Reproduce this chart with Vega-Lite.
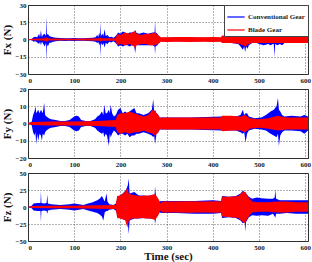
{
"$schema": "https://vega.github.io/schema/vega-lite/v6.json",
"padding": {"left": 0, "top": 0, "right": 2, "bottom": 0},
"spacing": 0,
"datasets": {
"fxC": [{"t":0,"lo":0,"hi":0},{"t":8,"lo":-0.5,"hi":0.5},{"t":12,"lo":-2,"hi":2},{"t":16,"lo":-1.5,"hi":2.5},{"t":20,"lo":-2.5,"hi":2},{"t":24,"lo":-4,"hi":5},{"t":26,"lo":-2,"hi":2},{"t":28,"lo":-5,"hi":8},{"t":30,"lo":-2,"hi":2},{"t":32,"lo":-3,"hi":4},{"t":36,"lo":-6,"hi":5},{"t":39,"lo":-3,"hi":3},{"t":40,"lo":-19,"hi":20},{"t":41,"lo":-4,"hi":4},{"t":43,"lo":-6,"hi":5},{"t":46,"lo":-3,"hi":3},{"t":50,"lo":-2.5,"hi":2.5},{"t":55,"lo":-2,"hi":2},{"t":60,"lo":-1.5,"hi":1.5},{"t":70,"lo":-1,"hi":1.2},{"t":80,"lo":-1.2,"hi":1},{"t":90,"lo":-1,"hi":1},{"t":100,"lo":-1.2,"hi":1.2},{"t":110,"lo":-1,"hi":1},{"t":120,"lo":-1,"hi":1},{"t":130,"lo":-1.2,"hi":1.2},{"t":140,"lo":-1.5,"hi":1.5},{"t":146,"lo":-2,"hi":2},{"t":150,"lo":-3,"hi":4},{"t":152,"lo":-2,"hi":2},{"t":154,"lo":-5,"hi":6},{"t":156,"lo":-3,"hi":3},{"t":157,"lo":-15,"hi":15},{"t":158,"lo":-3,"hi":3},{"t":161,"lo":-5,"hi":5},{"t":163,"lo":-3,"hi":3},{"t":166,"lo":-7,"hi":9},{"t":168,"lo":-3,"hi":3},{"t":172,"lo":-4,"hi":4},{"t":176,"lo":-2,"hi":2},{"t":180,"lo":-2.5,"hi":2.5},{"t":185,"lo":-1.5,"hi":1.5},{"t":190,"lo":-3,"hi":3},{"t":195,"lo":-6,"hi":6},{"t":200,"lo":-5,"hi":5},{"t":205,"lo":-6,"hi":7},{"t":210,"lo":-5,"hi":6},{"t":215,"lo":-5,"hi":5},{"t":220,"lo":-6,"hi":6},{"t":225,"lo":-5,"hi":6},{"t":230,"lo":-6,"hi":7},{"t":232,"lo":-12,"hi":8},{"t":234,"lo":-5,"hi":6},{"t":240,"lo":-5,"hi":5},{"t":250,"lo":-5,"hi":6},{"t":260,"lo":-5,"hi":5},{"t":270,"lo":-5,"hi":6},{"t":274,"lo":-6,"hi":6},{"t":275,"lo":-13,"hi":16},{"t":276,"lo":-6,"hi":6},{"t":280,"lo":-5,"hi":5},{"t":283,"lo":-3,"hi":3},{"t":286,"lo":-1.5,"hi":1.5},{"t":350,"lo":-1.5,"hi":1.5},{"t":418,"lo":-1.5,"hi":1.5},{"t":420,"lo":-3,"hi":3},{"t":440,"lo":-3,"hi":3},{"t":455,"lo":-4,"hi":4},{"t":460,"lo":-6,"hi":6},{"t":465,"lo":-9,"hi":8},{"t":468,"lo":-6,"hi":6},{"t":470,"lo":-11,"hi":10},{"t":472,"lo":-6,"hi":7},{"t":475,"lo":-8,"hi":6},{"t":478,"lo":-5,"hi":5},{"t":485,"lo":-3,"hi":3},{"t":495,"lo":-3,"hi":3},{"t":500,"lo":-4,"hi":5},{"t":510,"lo":-5,"hi":5},{"t":520,"lo":-4,"hi":5},{"t":525,"lo":-5,"hi":4},{"t":530,"lo":-4,"hi":8},{"t":532,"lo":-4,"hi":4},{"t":533,"lo":-15,"hi":12},{"t":535,"lo":-4,"hi":5},{"t":540,"lo":-5,"hi":6},{"t":545,"lo":-4,"hi":5},{"t":550,"lo":-5,"hi":4},{"t":555,"lo":-3,"hi":3},{"t":570,"lo":-3,"hi":3},{"t":590,"lo":-3,"hi":3},{"t":606,"lo":-3,"hi":3}],
"fxB": [{"t":0,"lo":-0.3,"hi":0.3},{"t":10,"lo":-0.7,"hi":0.7},{"t":38,"lo":-1,"hi":1},{"t":40,"lo":-2,"hi":2},{"t":45,"lo":-0.8,"hi":0.8},{"t":100,"lo":-0.7,"hi":0.7},{"t":155,"lo":-1,"hi":1},{"t":157,"lo":-2,"hi":2},{"t":160,"lo":-1,"hi":1},{"t":190,"lo":-1,"hi":1},{"t":193,"lo":-5,"hi":5},{"t":200,"lo":-4,"hi":4},{"t":210,"lo":-5,"hi":6},{"t":220,"lo":-4,"hi":5},{"t":230,"lo":-6,"hi":7},{"t":232,"lo":-8,"hi":8},{"t":235,"lo":-5,"hi":5},{"t":245,"lo":-4,"hi":4},{"t":255,"lo":-4,"hi":5},{"t":265,"lo":-5,"hi":5},{"t":275,"lo":-5,"hi":6},{"t":280,"lo":-4,"hi":4},{"t":285,"lo":-3,"hi":3},{"t":287,"lo":-2,"hi":2},{"t":300,"lo":-2.2,"hi":2},{"t":320,"lo":-2,"hi":2.2},{"t":350,"lo":-2.2,"hi":2.2},{"t":380,"lo":-2,"hi":2},{"t":400,"lo":-2.2,"hi":2.2},{"t":418,"lo":-2,"hi":2},{"t":420,"lo":-3,"hi":3.5},{"t":440,"lo":-3,"hi":3},{"t":455,"lo":-3.5,"hi":3.5},{"t":465,"lo":-5,"hi":5},{"t":470,"lo":-6,"hi":5},{"t":478,"lo":-4,"hi":4},{"t":485,"lo":-3,"hi":3},{"t":500,"lo":-3,"hi":3},{"t":520,"lo":-3,"hi":3},{"t":540,"lo":-3,"hi":3},{"t":560,"lo":-3,"hi":3},{"t":580,"lo":-3,"hi":3},{"t":606,"lo":-3,"hi":3}],
"fyC": [{"t":0,"lo":0,"hi":0},{"t":8,"lo":-1,"hi":1},{"t":11,"lo":-5,"hi":5},{"t":14,"lo":-7,"hi":7},{"t":16,"lo":-5,"hi":10},{"t":18,"lo":-12,"hi":6},{"t":20,"lo":-6,"hi":7},{"t":22,"lo":-10,"hi":8},{"t":25,"lo":-6,"hi":6},{"t":28,"lo":-7,"hi":8},{"t":30,"lo":-10,"hi":7},{"t":32,"lo":-6,"hi":6},{"t":35,"lo":-7,"hi":12},{"t":37,"lo":-5,"hi":5},{"t":40,"lo":-4,"hi":4},{"t":45,"lo":-3,"hi":3},{"t":50,"lo":-2.5,"hi":2.5},{"t":60,"lo":-2,"hi":2},{"t":70,"lo":-1.5,"hi":1.5},{"t":80,"lo":-1.5,"hi":1.5},{"t":90,"lo":-2,"hi":2},{"t":95,"lo":-3,"hi":3},{"t":100,"lo":-4,"hi":4},{"t":105,"lo":-4.5,"hi":4.5},{"t":110,"lo":-4,"hi":4},{"t":115,"lo":-2,"hi":2},{"t":125,"lo":-1.5,"hi":1.5},{"t":135,"lo":-1.5,"hi":1.5},{"t":145,"lo":-2.5,"hi":2.5},{"t":150,"lo":-4,"hi":4},{"t":155,"lo":-5,"hi":5},{"t":160,"lo":-6,"hi":7},{"t":163,"lo":-5,"hi":5},{"t":165,"lo":-8,"hi":11},{"t":168,"lo":-6,"hi":6},{"t":171,"lo":-7,"hi":6},{"t":175,"lo":-13,"hi":8},{"t":177,"lo":-6,"hi":6},{"t":179,"lo":-8,"hi":11},{"t":182,"lo":-6,"hi":6},{"t":186,"lo":-4,"hi":4},{"t":190,"lo":-5,"hi":5},{"t":195,"lo":-7,"hi":8},{"t":200,"lo":-6,"hi":9},{"t":205,"lo":-6,"hi":6},{"t":210,"lo":-7,"hi":7},{"t":215,"lo":-6,"hi":6},{"t":220,"lo":-8,"hi":7},{"t":225,"lo":-7,"hi":8},{"t":230,"lo":-7,"hi":9},{"t":235,"lo":-6,"hi":6},{"t":240,"lo":-6,"hi":6},{"t":250,"lo":-5,"hi":5},{"t":260,"lo":-6,"hi":6},{"t":268,"lo":-7,"hi":8},{"t":271,"lo":-8,"hi":14},{"t":273,"lo":-7,"hi":7},{"t":275,"lo":-12,"hi":8},{"t":278,"lo":-6,"hi":6},{"t":282,"lo":-5,"hi":5},{"t":285,"lo":-3.5,"hi":3.5},{"t":350,"lo":-3.5,"hi":3.5},{"t":420,"lo":-4,"hi":4},{"t":450,"lo":-4,"hi":4},{"t":460,"lo":-5,"hi":5},{"t":465,"lo":-6,"hi":8},{"t":468,"lo":-5,"hi":5},{"t":471,"lo":-11,"hi":6},{"t":474,"lo":-6,"hi":6},{"t":478,"lo":-4,"hi":4},{"t":490,"lo":-3,"hi":3},{"t":505,"lo":-3.5,"hi":3.5},{"t":515,"lo":-4,"hi":5},{"t":525,"lo":-6,"hi":7},{"t":532,"lo":-7,"hi":8},{"t":538,"lo":-8,"hi":10},{"t":541,"lo":-6,"hi":15},{"t":543,"lo":-13,"hi":8},{"t":546,"lo":-7,"hi":7},{"t":550,"lo":-5,"hi":5},{"t":555,"lo":-4,"hi":4},{"t":570,"lo":-4,"hi":4.5},{"t":590,"lo":-4.5,"hi":4},{"t":598,"lo":-6,"hi":5},{"t":606,"lo":-4,"hi":4}],
"fyB": [{"t":0,"lo":-0.3,"hi":0.3},{"t":10,"lo":-0.8,"hi":0.8},{"t":50,"lo":-1.2,"hi":1.2},{"t":100,"lo":-1.2,"hi":1.2},{"t":150,"lo":-1.5,"hi":1.5},{"t":190,"lo":-2,"hi":2},{"t":193,"lo":-5,"hi":5},{"t":200,"lo":-6,"hi":6},{"t":210,"lo":-5,"hi":6},{"t":220,"lo":-6,"hi":7},{"t":230,"lo":-5,"hi":6},{"t":240,"lo":-5,"hi":5},{"t":250,"lo":-4,"hi":4},{"t":260,"lo":-5,"hi":5},{"t":270,"lo":-6,"hi":8},{"t":275,"lo":-7,"hi":7},{"t":282,"lo":-5,"hi":5},{"t":286,"lo":-3,"hi":3},{"t":288,"lo":-3.5,"hi":3.5},{"t":320,"lo":-3.5,"hi":3.5},{"t":360,"lo":-3.5,"hi":3.5},{"t":400,"lo":-3.5,"hi":3.5},{"t":418,"lo":-3.5,"hi":3.5},{"t":420,"lo":-4.5,"hi":4.5},{"t":440,"lo":-4,"hi":4.5},{"t":460,"lo":-4,"hi":4},{"t":470,"lo":-5,"hi":5},{"t":480,"lo":-3,"hi":3},{"t":500,"lo":-2.5,"hi":2.5},{"t":520,"lo":-3,"hi":3},{"t":540,"lo":-4,"hi":4.5},{"t":560,"lo":-3.5,"hi":3.5},{"t":580,"lo":-3.5,"hi":3.5},{"t":606,"lo":-3.5,"hi":3.5}],
"fzC": [{"t":0,"lo":0,"hi":0},{"t":8,"lo":-2,"hi":2},{"t":12,"lo":-5,"hi":5},{"t":20,"lo":-6,"hi":6},{"t":27,"lo":-6,"hi":6},{"t":28,"lo":-22,"hi":23},{"t":29,"lo":-6,"hi":6},{"t":35,"lo":-5,"hi":5},{"t":40,"lo":-6,"hi":6},{"t":42,"lo":-10,"hi":18},{"t":43,"lo":-5,"hi":5},{"t":50,"lo":-4,"hi":4},{"t":70,"lo":-3,"hi":3},{"t":90,"lo":-4,"hi":4},{"t":100,"lo":-5,"hi":5},{"t":110,"lo":-4,"hi":4},{"t":120,"lo":-3,"hi":3},{"t":130,"lo":-5,"hi":5},{"t":140,"lo":-7,"hi":7},{"t":150,"lo":-9,"hi":10},{"t":155,"lo":-11,"hi":12},{"t":160,"lo":-14,"hi":16},{"t":163,"lo":-20,"hi":12},{"t":166,"lo":-8,"hi":8},{"t":170,"lo":-6,"hi":20},{"t":172,"lo":-6,"hi":8},{"t":176,"lo":-4,"hi":4},{"t":185,"lo":-3,"hi":3},{"t":190,"lo":-5,"hi":5},{"t":195,"lo":-15,"hi":15},{"t":205,"lo":-18,"hi":20},{"t":212,"lo":-20,"hi":25},{"t":216,"lo":-22,"hi":32},{"t":218,"lo":-40,"hi":42},{"t":220,"lo":-20,"hi":20},{"t":230,"lo":-17,"hi":22},{"t":240,"lo":-17,"hi":17},{"t":250,"lo":-16,"hi":17},{"t":260,"lo":-17,"hi":16},{"t":270,"lo":-17,"hi":18},{"t":274,"lo":-18,"hi":18},{"t":275,"lo":-25,"hi":30},{"t":277,"lo":-16,"hi":16},{"t":283,"lo":-8,"hi":8},{"t":290,"lo":-9,"hi":9},{"t":320,"lo":-9,"hi":9},{"t":360,"lo":-10,"hi":9},{"t":400,"lo":-10,"hi":10},{"t":418,"lo":-9,"hi":9},{"t":420,"lo":-16,"hi":16},{"t":435,"lo":-15,"hi":15},{"t":450,"lo":-16,"hi":16},{"t":460,"lo":-20,"hi":20},{"t":465,"lo":-24,"hi":24},{"t":469,"lo":-22,"hi":22},{"t":470,"lo":-36,"hi":22},{"t":472,"lo":-22,"hi":20},{"t":478,"lo":-15,"hi":15},{"t":485,"lo":-12,"hi":12},{"t":495,"lo":-13,"hi":14},{"t":505,"lo":-12,"hi":13},{"t":520,"lo":-13,"hi":12},{"t":530,"lo":-10,"hi":12},{"t":534,"lo":-14,"hi":14},{"t":535,"lo":-16,"hi":26},{"t":537,"lo":-10,"hi":12},{"t":545,"lo":-10,"hi":10},{"t":560,"lo":-9,"hi":10},{"t":580,"lo":-10,"hi":10},{"t":606,"lo":-10,"hi":10}],
"fzB": [{"t":0,"lo":-0.5,"hi":0.5},{"t":10,"lo":-1.5,"hi":1.5},{"t":50,"lo":-2,"hi":2},{"t":100,"lo":-2,"hi":2},{"t":150,"lo":-2.5,"hi":2.5},{"t":190,"lo":-3,"hi":3},{"t":193,"lo":-16,"hi":16},{"t":200,"lo":-17,"hi":17},{"t":210,"lo":-19,"hi":22},{"t":215,"lo":-30,"hi":28},{"t":218,"lo":-20,"hi":20},{"t":225,"lo":-17,"hi":18},{"t":235,"lo":-17,"hi":17},{"t":245,"lo":-16,"hi":16},{"t":255,"lo":-17,"hi":17},{"t":265,"lo":-17,"hi":17},{"t":275,"lo":-19,"hi":19},{"t":282,"lo":-12,"hi":12},{"t":287,"lo":-5,"hi":5},{"t":290,"lo":-8,"hi":8},{"t":320,"lo":-8,"hi":8},{"t":350,"lo":-8.5,"hi":8.5},{"t":380,"lo":-8,"hi":8},{"t":410,"lo":-8.5,"hi":8.5},{"t":418,"lo":-8,"hi":8},{"t":420,"lo":-14,"hi":15},{"t":440,"lo":-15,"hi":15},{"t":455,"lo":-16,"hi":16},{"t":465,"lo":-22,"hi":22},{"t":470,"lo":-24,"hi":22},{"t":475,"lo":-16,"hi":16},{"t":485,"lo":-8,"hi":8},{"t":500,"lo":-7,"hi":7},{"t":520,"lo":-7,"hi":7},{"t":540,"lo":-8,"hi":8},{"t":560,"lo":-8,"hi":8},{"t":580,"lo":-7,"hi":7},{"t":606,"lo":-7,"hi":7}]
},
"config": {
"view": {"stroke": "#333", "strokeWidth": 1},
"axis": {"labelFont": "Liberation Serif", "labelFontWeight": "bold", "labelFontSize": 7, "labelColor": "#222", "titleFont": "Liberation Serif", "titleFontWeight": "bold", "titleFontSize": 11, "titleColor": "#111", "grid": true, "gridColor": "#222", "gridDash": [1, 2], "gridOpacity": 0.7, "domain": false, "ticks": false, "labelPadding": 2, "tickCount": 8},
"legend": {"labelFont": "Liberation Serif", "labelFontWeight": "bold", "labelFontSize": 7, "labelColor": "#222"}
},
"resolve": {"legend": {"color": "independent"}},
"vconcat": [
{"width": 280, "height": 69, "layer": [
{"data": {"name": "fxC"}, "mark": {"type": "area"},
"encoding": {"x": {"field": "t", "type": "quantitative", "scale": {"domain": [0, 606], "nice": false}, "axis": {"values": [0,100,200,300,400,500,600], "title": null}},
"y": {"field": "lo", "type": "quantitative", "scale": {"domain": [-30, 30], "nice": false}, "axis": {"values": [-30,-15,0,15,30], "tickCount": 8, "title": "Fx (N)", "titlePadding": 3}},
"y2": {"field": "hi"},
"color": {"datum": "Conventional Gear", "scale": {"domain": ["Conventional Gear", "Blade Gear"], "range": ["#0000ff", "#ff0000"]},
"legend": {"title": null, "orient": "top-right", "offset": 0, "padding": 3, "rowPadding": 1, "strokeColor": "#444", "fillColor": "white", "symbolType": "M-1,-0.07L1,-0.07L1,0.07L-1,0.07Z", "symbolSize": 300, "symbolStrokeWidth": 0, "labelOffset": 3,
"encode": {"symbols": {"update": {"fill": {"scale": "color", "field": "value"}, "strokeWidth": {"value": 0}}}}}}}},
{"data": {"name": "fxB"}, "mark": {"type": "area"},
"encoding": {"x": {"field": "t", "type": "quantitative"},
"y": {"field": "lo", "type": "quantitative"},
"y2": {"field": "hi"}, "color": {"datum": "Blade Gear"}}}
]},
{"width": 280, "height": 69, "layer": [
{"data": {"name": "fyC"}, "mark": {"type": "area"},
"encoding": {"x": {"field": "t", "type": "quantitative", "scale": {"domain": [0, 606], "nice": false}, "axis": {"values": [0,100,200,300,400,500,600], "title": null}},
"y": {"field": "lo", "type": "quantitative", "scale": {"domain": [-20, 20], "nice": false}, "axis": {"values": [-20,-10,0,10,20], "tickCount": 8, "title": "Fy (N)", "titlePadding": 3}},
"y2": {"field": "hi"},
"color": {"datum": "Conventional Gear", "legend": null}}},
{"data": {"name": "fyB"}, "mark": {"type": "area"},
"encoding": {"x": {"field": "t", "type": "quantitative"},
"y": {"field": "lo", "type": "quantitative"},
"y2": {"field": "hi"}, "color": {"datum": "Blade Gear", "legend": null}}}
]},
{"width": 280, "height": 68, "layer": [
{"data": {"name": "fzC"}, "mark": {"type": "area"},
"encoding": {"x": {"field": "t", "type": "quantitative", "scale": {"domain": [0, 606], "nice": false}, "axis": {"values": [0,100,200,300,400,500,600], "title": "Time (sec)", "titlePadding": 0}},
"y": {"field": "lo", "type": "quantitative", "scale": {"domain": [-50, 50], "nice": false}, "axis": {"values": [-50,-25,0,25,50], "tickCount": 8, "title": "Fz (N)", "titlePadding": 3}},
"y2": {"field": "hi"},
"color": {"datum": "Conventional Gear", "legend": null}}},
{"data": {"name": "fzB"}, "mark": {"type": "area"},
"encoding": {"x": {"field": "t", "type": "quantitative"},
"y": {"field": "lo", "type": "quantitative"},
"y2": {"field": "hi"}, "color": {"datum": "Blade Gear", "legend": null}}}
]}
]
}
